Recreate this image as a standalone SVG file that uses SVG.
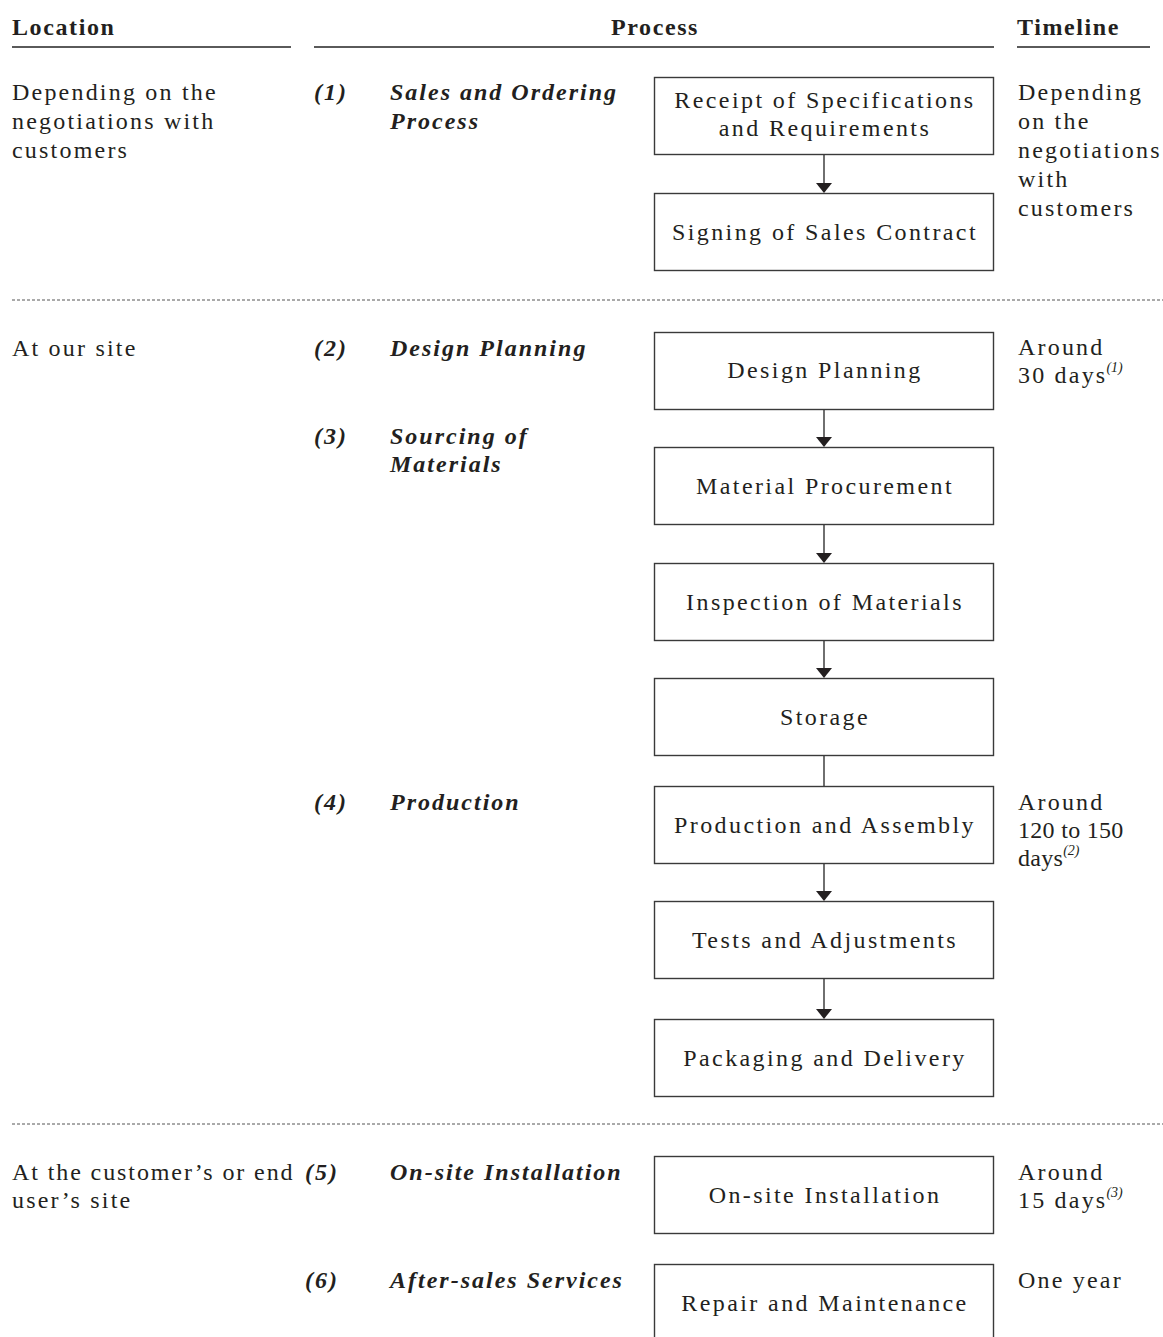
<svg xmlns="http://www.w3.org/2000/svg" width="1163" height="1337" viewBox="0 0 1163 1337">
<style>
text{font-family:"Liberation Serif","Times New Roman",serif;fill:#231f20;font-size:24px}
.h{font-weight:bold;letter-spacing:1.6px}
.b{letter-spacing:2.2px}
.n{letter-spacing:0.3px}
.c{text-anchor:middle;letter-spacing:2.4px}
.l{font-weight:bold;font-style:italic;letter-spacing:2px}
.sup{font-style:italic;font-size:14px;letter-spacing:0}
.box{fill:none;stroke:#3a3a3a;stroke-width:1.4}
.rule{stroke:#5a5a5a;stroke-width:2}
.dash{stroke:#555;stroke-width:1;stroke-dasharray:3 2}
.conn line{stroke:#333;stroke-width:1.4}
.conn polygon{fill:#231f20}
</style>
<rect width="1163" height="1337" fill="#fff"/>
<g id="header">
<text class="h" x="12" y="35">Location</text>
<text class="h" x="655" y="35" text-anchor="middle">Process</text>
<text class="h" x="1017" y="35">Timeline</text>
<line class="rule" x1="12" y1="47" x2="291" y2="47"/>
<line class="rule" x1="314" y1="47" x2="994" y2="47"/>
<line class="rule" x1="1017" y1="47" x2="1150" y2="47"/>
</g>
<g id="separators">
<line class="dash" x1="12" y1="300" x2="1163" y2="300"/>
<line class="dash" x1="12" y1="1124" x2="1163" y2="1124"/>
</g>
<g id="location-labels">
<text class="b" x="12" y="100">Depending on the</text>
<text class="b" x="12" y="129">negotiations with</text>
<text class="b" x="12" y="158">customers</text>
<text class="b" x="12" y="356">At our site</text>
<text class="b" x="12" y="1180" style="letter-spacing:1.9px">At the customer’s or end</text>
<text class="b" x="12" y="1208">user’s site</text>
</g>
<g id="stage-labels">
<text class="l" x="314" y="100">(1)</text>
<text class="l" x="390" y="100">Sales and Ordering</text>
<text class="l" x="390" y="129">Process</text>
<text class="l" x="314" y="356">(2)</text>
<text class="l" x="390" y="356">Design Planning</text>
<text class="l" x="314" y="444">(3)</text>
<text class="l" x="390" y="444">Sourcing of</text>
<text class="l" x="390" y="472">Materials</text>
<text class="l" x="314" y="810">(4)</text>
<text class="l" x="390" y="810">Production</text>
<text class="l" x="305" y="1180">(5)</text>
<text class="l" x="390" y="1180">On-site Installation</text>
<text class="l" x="305" y="1288">(6)</text>
<text class="l" x="390" y="1288">After-sales Services</text>
</g>
<g id="timeline">
<text class="b" x="1018" y="100">Depending</text>
<text class="b" x="1018" y="129">on the</text>
<text class="b" x="1018" y="158">negotiations</text>
<text class="b" x="1018" y="187">with</text>
<text class="b" x="1018" y="216">customers</text>
<text class="b" x="1018" y="355">Around</text>
<text class="b" x="1018" y="383">30 days<tspan class="sup" dx="-1" dy="-11">(1)</tspan></text>
<text class="b" x="1018" y="810">Around</text>
<text class="n" x="1018" y="838">120 to 150</text>
<text class="n" x="1018" y="866">days<tspan class="sup" dx="0" dy="-11">(2)</tspan></text>
<text class="b" x="1018" y="1180">Around</text>
<text class="b" x="1018" y="1208">15 days<tspan class="sup" dx="-1" dy="-11">(3)</tspan></text>
<text class="b" x="1018" y="1288">One year</text>
</g>
<g id="node-receipt"><rect class="box" x="654.5" y="77.5" width="339" height="77"/>
<text class="c" x="825" y="108">Receipt of Specifications</text>
<text class="c" x="825" y="136">and Requirements</text></g>
<g id="node-signing"><rect class="box" x="654.5" y="193.5" width="339" height="77"/>
<text class="c" x="825" y="240">Signing of Sales Contract</text></g>
<g id="node-design"><rect class="box" x="654.5" y="332.5" width="339" height="77"/>
<text class="c" x="825" y="378">Design Planning</text></g>
<g id="node-procurement"><rect class="box" x="654.5" y="447.5" width="339" height="77"/>
<text class="c" x="825" y="494">Material Procurement</text></g>
<g id="node-inspection"><rect class="box" x="654.5" y="563.5" width="339" height="77"/>
<text class="c" x="825" y="610">Inspection of Materials</text></g>
<g id="node-storage"><rect class="box" x="654.5" y="678.5" width="339" height="77"/>
<text class="c" x="825" y="725">Storage</text></g>
<g id="node-production"><rect class="box" x="654.5" y="786.5" width="339" height="77"/>
<text class="c" x="825" y="833">Production and Assembly</text></g>
<g id="node-tests"><rect class="box" x="654.5" y="901.5" width="339" height="77"/>
<text class="c" x="825" y="948">Tests and Adjustments</text></g>
<g id="node-packaging"><rect class="box" x="654.5" y="1019.5" width="339" height="77"/>
<text class="c" x="825" y="1066">Packaging and Delivery</text></g>
<g id="node-installation"><rect class="box" x="654.5" y="1156.5" width="339" height="77"/>
<text class="c" x="825" y="1203">On-site Installation</text></g>
<g id="node-repair"><rect class="box" x="654.5" y="1264.5" width="339" height="100"/>
<text class="c" x="825" y="1311">Repair and Maintenance</text></g>
<g id="connectors" class="conn">
<line x1="824" y1="155" x2="824" y2="184"/><polygon points="816,183 832,183 824,193"/>
<line x1="824" y1="410" x2="824" y2="438"/><polygon points="816,437 832,437 824,447"/>
<line x1="824" y1="525" x2="824" y2="554"/><polygon points="816,553 832,553 824,563"/>
<line x1="824" y1="641" x2="824" y2="669"/><polygon points="816,668 832,668 824,678"/>
<line x1="824" y1="756" x2="824" y2="786"/>
<line x1="824" y1="864" x2="824" y2="892"/><polygon points="816,891 832,891 824,901"/>
<line x1="824" y1="979" x2="824" y2="1010"/><polygon points="816,1009 832,1009 824,1019"/>
</g>
</svg>
